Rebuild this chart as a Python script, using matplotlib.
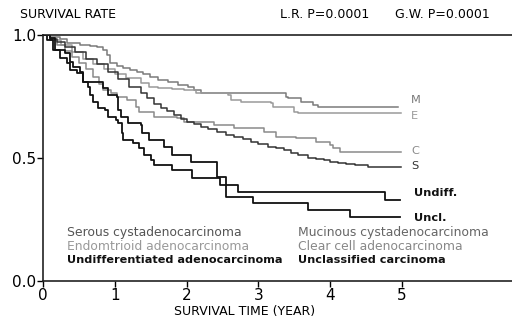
import matplotlib
matplotlib.use("Agg")
import matplotlib.pyplot as plt

# Kaplan-Meier step curves (time in years, survival rate)
m_t = [0, 0.098, 0.238, 0.336, 0.517, 0.657, 0.755, 0.839, 0.895, 0.937, 1.035, 1.119, 1.217, 1.315,
       1.399, 1.497, 1.608, 1.734, 1.874, 2.014, 2.098, 2.196, 3.38, 3.41, 3.59, 3.76, 3.83, 4.32, 4.95]
m_s = [1.0, 0.992, 0.984, 0.967, 0.959, 0.955, 0.951, 0.939, 0.919, 0.886, 0.874, 0.866, 0.858, 0.850,
       0.841, 0.829, 0.817, 0.809, 0.797, 0.789, 0.776, 0.764, 0.748, 0.744, 0.728, 0.715, 0.707, 0.707, 0.707]

e_t = [0, 0.1, 0.25, 0.4, 0.55, 0.7, 0.85, 1.0, 1.15, 1.36, 1.47, 1.6, 1.8, 1.96, 2.13, 2.57, 2.62, 2.76,
       3.17, 3.20, 3.50, 3.55, 4.99]
e_s = [1.0, 0.98, 0.96, 0.93, 0.90, 0.88, 0.86, 0.84, 0.825, 0.805, 0.789, 0.785, 0.78, 0.776, 0.764, 0.756,
       0.736, 0.728, 0.724, 0.707, 0.687, 0.683, 0.683]

c_t = [0, 0.1, 0.2, 0.3, 0.4, 0.5, 0.6, 0.7, 0.78, 0.83, 0.95, 1.03, 1.17, 1.29, 1.33, 1.54, 1.87, 1.96,
       2.38, 2.66, 3.08, 3.24, 3.52, 3.80, 3.99, 4.04, 4.13, 4.99]
c_s = [1.0, 0.98, 0.96, 0.935, 0.91, 0.885, 0.86, 0.83, 0.80, 0.776, 0.764, 0.748, 0.736, 0.707, 0.687,
       0.667, 0.663, 0.646, 0.634, 0.622, 0.606, 0.585, 0.581, 0.565, 0.553, 0.541, 0.524, 0.524]

s_t = [0, 0.1, 0.2, 0.3, 0.45, 0.6, 0.75, 0.9, 1.05, 1.2, 1.36, 1.45, 1.55, 1.64, 1.73, 1.82, 1.92, 2.01,
       2.1, 2.20, 2.3, 2.43, 2.55, 2.66, 2.78, 2.90, 3.0, 3.13, 3.25, 3.36, 3.45, 3.55, 3.69, 3.8, 3.92,
       4.0, 4.11, 4.22, 4.34, 4.53, 4.99]
s_s = [1.0, 0.985, 0.97, 0.95, 0.93, 0.90, 0.88, 0.85, 0.82, 0.79, 0.764, 0.745, 0.72, 0.703, 0.69, 0.675,
       0.66, 0.646, 0.636, 0.626, 0.616, 0.606, 0.595, 0.585, 0.575, 0.565, 0.555, 0.545, 0.54, 0.532, 0.52,
       0.512, 0.500, 0.496, 0.492, 0.485, 0.480, 0.476, 0.472, 0.463, 0.463]

ud_t = [0, 0.10, 0.17, 0.31, 0.38, 0.42, 0.52, 0.56, 0.80, 0.84, 0.90, 1.03, 1.05, 1.08, 1.19, 1.36, 1.38,
        1.47, 1.68, 1.80, 2.06, 2.43, 2.55, 2.71, 4.76, 4.97]
ud_s = [1.0, 0.988, 0.939, 0.927, 0.890, 0.870, 0.850, 0.809, 0.809, 0.785, 0.756, 0.748, 0.695, 0.667,
        0.642, 0.634, 0.602, 0.573, 0.545, 0.512, 0.484, 0.423, 0.390, 0.362, 0.329, 0.329]

uc_t = [0, 0.056, 0.14, 0.24, 0.34, 0.38, 0.48, 0.55, 0.62, 0.66, 0.70, 0.76, 0.87, 0.90, 1.01, 1.05, 1.10,
        1.12, 1.26, 1.33, 1.40, 1.50, 1.54, 1.80, 2.08, 2.47, 2.55, 2.92, 3.69, 4.27, 4.97]
uc_s = [1.0, 0.980, 0.939, 0.907, 0.886, 0.858, 0.846, 0.809, 0.789, 0.756, 0.728, 0.703, 0.695, 0.667,
        0.654, 0.642, 0.602, 0.573, 0.561, 0.541, 0.512, 0.492, 0.472, 0.451, 0.419, 0.390, 0.341, 0.317,
        0.289, 0.260, 0.260]

# series: times, survival, colour, end label, label height
curves = [
    (m_t, m_s, "#7a7a7a", "M", 0.736),
    (e_t, e_s, "#9a9a9a", "E", 0.671),
    (c_t, c_s, "#8a8a8a", "C", 0.528),
    (s_t, s_s, "#333333", "S", 0.467),
    (ud_t, ud_s, "#111111", "Undiff.", 0.358),
    (uc_t, uc_s, "#111111", "Uncl.", 0.256),
]

legend_rows = [
    ("Serous cystadenocarcinoma", "#555555", "normal", "Mucinous cystadenocarcinoma", "#666666", "normal"),
    ("Endomtrioid adenocarcinoma", "#999999", "normal", "Clear cell adenocarcinoma", "#888888", "normal"),
    ("Undifferentiated adenocarcinoma", "#111111", "bold", "Unclassified carcinoma", "#111111", "bold"),
]

plt.rcParams['font.family'] = ['DejaVu Sans']

fig = plt.figure(figsize=(5.12, 3.23), dpi=100)
ax = fig.add_axes([0.084, 0.130, 0.920, 0.762])

for t, s, col, lab, ly in curves:
    bold = lab in ("Undiff.", "Uncl.")
    ax.step(t, s, where="post", color=col, lw=1.3 if bold else 1.1)
    ax.text(5.13 if not bold else 5.17, ly, lab, color=col, fontsize=8.2,
            fontweight="bold" if bold else "normal", va="center", ha="left")

# text legend
for i, (l1, c1, w1, l2, c2, w2) in enumerate(legend_rows):
    y = 0.199 - i * 0.057
    fs = 8.1 if w1 == "bold" else 8.9
    ax.text(0.33, y, l1, color=c1, fontweight=w1, fontsize=fs, va="center")
    ax.text(3.55, y, l2, color=c2, fontweight=w2, fontsize=fs, va="center")

ax.set_xlim(0, 6.56)
ax.set_ylim(0, 1.0)
ax.set_xticks([0, 1, 2, 3, 4, 5])
ax.set_xticklabels(["0", "1", "2", "3", "4", "5"], fontsize=11)
ax.set_yticks([0.0, 0.5, 1.0])
ax.set_yticklabels(["0.0", "0.5", "1.0"], fontsize=11)
ax.tick_params(direction="out", length=4, width=1, pad=1)
for sp in ax.spines.values():
    sp.set_linewidth(1.2)
    sp.set_color("#222222")
ax.spines["right"].set_visible(False)

fig.text(0.478, 0.035, "SURVIVAL TIME (YEAR)", fontsize=9, ha="center", va="center")
fig.text(0.04, 0.955, "SURVIVAL RATE", fontsize=9, va="center")
fig.text(0.547, 0.955, "L.R. P=0.0001", fontsize=9, va="center")
fig.text(0.772, 0.955, "G.W. P=0.0001", fontsize=9, va="center")

fig.savefig("out.png", dpi=100)
